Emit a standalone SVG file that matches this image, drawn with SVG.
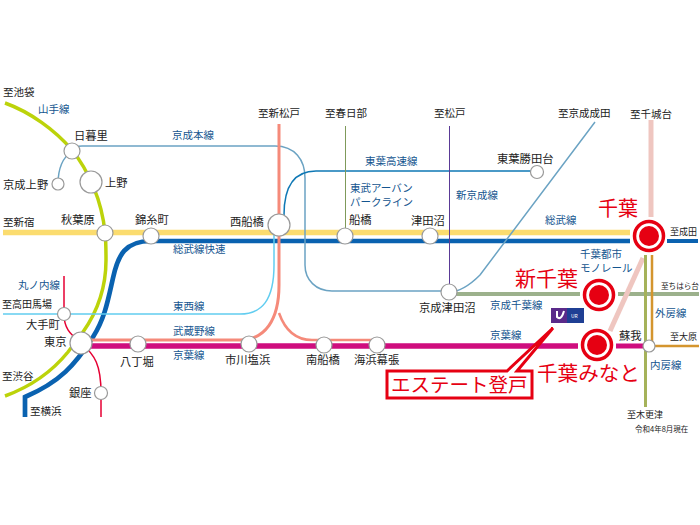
<svg xmlns="http://www.w3.org/2000/svg" width="700" height="525" viewBox="0 0 700 525">
<style>
text{font-family:"Noto Sans CJK JP","Noto Sans",sans-serif;font-size:10.5px;fill:#222}
.s{font-size:11.300px}
.d9{font-size:9px}
.b{fill:#14558f}
.r{fill:#e60012;font-weight:400}
.st{fill:#fff;stroke:#999;stroke-width:1.2}
.big{fill:#fff;stroke:#e60012;stroke-width:3.5}
.dot{fill:#e60012}
</style>
<rect width="700" height="525" fill="#fff"/>
<g id="connectors" fill="none">
<path d="M3 232.500H630" stroke="#fbdc6f" stroke-width="5.300"/>
<path d="M5 103C30 112 55 130 72 150C88 170 102 200 105 233C106 240 106 250 106 260C106 290 95 315 83 332L68 352C55 368 35 385 5 396" stroke="#bcd30a" stroke-width="3.500"/>
<path d="M25 417V397C60 382 75 365 93 337C105 318 108 300 113 278C118 255 125 241 151 241H630" stroke="#0a62b0" stroke-width="4.700"/>
<path d="M3 314H240C262 314 274 300 274 265V225" stroke="#62cdf0" stroke-width="1.500"/>
<path d="M72 150Q75 146 82 146H275C295 146 305 160 305 178V265C305 280 316 291 332 291H449" stroke="#6ba3c3" stroke-width="1.500"/>
<path d="M72 151C62 158 58 168 58 184" stroke="#6ba3c3" stroke-width="1.500"/>
<path d="M279 124V285C279 320 265 340 240 340H90" stroke="#f58a7a" stroke-width="3"/>
<path d="M279 313C285 330 295 340 312 340H378" stroke="#f58a7a" stroke-width="2.500"/>
<path d="M85 346H578" stroke="#cf0d7e" stroke-width="5.300"/>
<path d="M616 346H650" stroke="#cf0d7e" stroke-width="5"/>
<path d="M64 276V314C64 330 72 335 81 343C95 355 101 365 101 393V417" stroke="#e60033" stroke-width="1.500"/>
<path d="M284 215C284 185 295 171 316 171H537" stroke="#0f78b5" stroke-width="1.500"/>
<path d="M345.500 126V236" stroke="#7f9a5a" stroke-width="1"/>
<path d="M449.500 126V292" stroke="#5a3a96" stroke-width="1"/>
<path d="M449 292C460 292 470 285 480 275L595 122" stroke="#6ba3c3" stroke-width="1.500"/>
<path d="M455 294H580M618 294H699" stroke="#9cb18c" stroke-width="4"/>
<path d="M651 120V217" stroke="#efc6c0" stroke-width="5"/>
<path d="M643 258L610 331" stroke="#efc6c0" stroke-width="5"/>
<path d="M667 241H698" stroke="#0a62b0" stroke-width="4"/>
<path d="M645.500 255V407" stroke="#a5b25a" stroke-width="3"/>
<path d="M652 255V346H699" stroke="#d4952e" stroke-width="2.500"/>
</g>
<g id="labels-lines">
<text class="b" x="38" y="113">山手線</text>
<text class="b" x="172" y="139">京成本線</text>
<text class="b" x="173" y="253">総武線快速</text>
<text class="b" x="173" y="310">東西線</text>
<text class="b" x="173" y="335">武蔵野線</text>
<text class="b" x="173" y="359">京葉線</text>
<text class="b" x="18" y="289">丸ノ内線</text>
<text class="b" x="365" y="165">東葉高速線</text>
<text class="b" x="350" y="192">東武アーバン</text>
<text class="b" x="350" y="206">パークライン</text>
<text class="b" x="456" y="199">新京成線</text>
<text class="b" x="545" y="224">総武線</text>
<text class="b" x="580" y="258">千葉都市</text>
<text class="b" x="580" y="272">モノレール</text>
<text class="b" x="490" y="309">京成千葉線</text>
<text class="b" x="490" y="339">京葉線</text>
<text class="b" x="655" y="317">外房線</text>
<text class="b" x="650" y="369">内房線</text>
</g>
<g id="labels-dest">
<text x="3" y="96">至池袋</text>
<text x="3" y="226">至新宿</text>
<text x="2" y="308" style="font-size:10px">至高田馬場</text>
<text x="2" y="380">至渋谷</text>
<text x="30" y="415">至横浜</text>
<text x="258" y="117">至新松戸</text>
<text x="325" y="117">至春日部</text>
<text x="434" y="117">至松戸</text>
<text x="558" y="117">至京成成田</text>
<text x="630" y="118">至千城台</text>
<text class="d9" x="670" y="235">至成田</text>
<text class="d9" x="661" y="289" style="font-size:7.600px">至ちはら台</text>
<text class="d9" x="670" y="340">至大原</text>
<text class="d9" x="627" y="418">至木更津</text>
<text x="635" y="432" style="font-size:7.500px">令和4年8月現在</text>
</g>
<g id="st-nippori"><circle class="st" cx="72" cy="151" r="8"/><text class="s" x="74" y="140">日暮里</text></g>
<g id="st-keiseiueno"><circle class="st" cx="58" cy="184" r="6"/><text class="s" x="3" y="189">京成上野</text></g>
<g id="st-ueno"><circle class="st" cx="91" cy="182" r="11"/><text class="s" x="105" y="187">上野</text></g>
<g id="st-akihabara"><circle class="st" cx="105" cy="233" r="8"/><text class="s" x="61" y="224">秋葉原</text></g>
<g id="st-kinshicho"><circle class="st" cx="151" cy="236" r="8"/><text class="s" x="135" y="224">錦糸町</text></g>
<g id="st-nishifunabashi"><circle class="st" cx="279" cy="225" r="11"/><text class="s" x="230" y="226">西船橋</text></g>
<g id="st-funabashi"><circle class="st" cx="345" cy="236" r="8"/><text class="s" x="349" y="224">船橋</text></g>
<g id="st-tsudanuma"><circle class="st" cx="430" cy="236" r="8"/><text class="s" x="411" y="225">津田沼</text></g>
<g id="st-keiseitsudanuma"><circle class="st" cx="449" cy="292" r="8"/><text class="s" x="419" y="312">京成津田沼</text></g>
<g id="st-toyokatsutadai"><circle class="st" cx="537" cy="172" r="6.500"/><text class="s" x="497" y="163">東葉勝田台</text></g>
<g id="st-otemachi"><circle class="st" cx="64" cy="314" r="6.500"/><text class="s" x="26" y="329">大手町</text></g>
<g id="st-tokyo"><circle class="st" cx="81" cy="343" r="11"/><text class="s" x="44" y="346">東京</text></g>
<g id="st-hatchobori"><circle class="st" cx="138" cy="344" r="8"/><text class="s" x="120" y="366">八丁堀</text></g>
<g id="st-ginza"><circle class="st" cx="101" cy="393" r="6.500"/><text class="s" x="69" y="397">銀座</text></g>
<g id="st-ichikawashiohama"><circle class="st" cx="249" cy="344" r="8"/><text class="s" x="225" y="364">市川塩浜</text></g>
<g id="st-minamifunabashi"><circle class="st" cx="324" cy="345" r="8"/><text class="s" x="306" y="364">南船橋</text></g>
<g id="st-kaihinmakuhari"><circle class="st" cx="377" cy="345" r="8"/><text class="s" x="354" y="364">海浜幕張</text></g>
<g id="st-soga"><circle class="st" cx="649" cy="346" r="6"/><text class="s" x="619" y="340">蘇我</text></g>
<g id="st-chiba"><circle class="big" cx="649" cy="236" r="14.500"/><circle class="dot" cx="649" cy="236" r="10"/><text class="r" x="598" y="216" style="font-size:20px">千葉</text></g>
<g id="st-shinchiba"><circle class="big" cx="599" cy="295" r="14.500"/><circle class="dot" cx="599" cy="295" r="10"/><text class="r" x="515" y="286" style="font-size:21px">新千葉</text></g>
<g id="st-chibaminato"><circle class="big" cx="597" cy="345" r="14.500"/><circle class="dot" cx="597" cy="345" r="10"/><text class="r" x="537" y="381" style="font-size:20.600px">千葉みなと</text></g>
<g id="logo"><rect x="551" y="308" width="33" height="15" fill="#5a2a8a"/><rect x="567" y="308" width="17" height="15" fill="#1f3f94"/><path d="M557 311V317Q561 321 564 311" fill="none" stroke="#fff" stroke-width="2"/><text x="571" y="318" style="font-size:5px;fill:#fff">UR</text></g>
<g id="callout"><path d="M387 371H507L553 328L517 371H532V398H387Z" fill="#fff" stroke="#e60012" stroke-width="3"/><text class="r" x="391" y="392" style="font-size:19.500px">エステート登戸</text></g>
</svg>
